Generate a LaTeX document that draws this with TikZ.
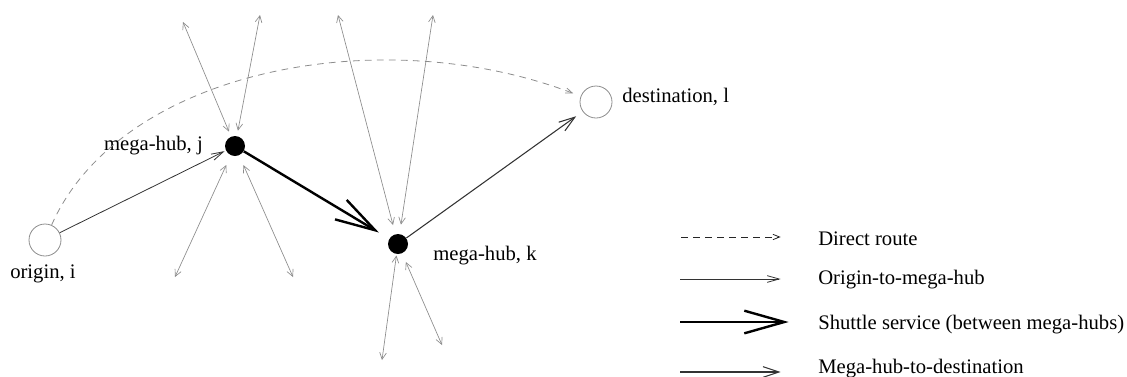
\documentclass[tikz,border=0pt]{standalone}
\usepackage{fontspec}
\setmainfont{Liberation Serif}
\usetikzlibrary{arrows.meta}

\tikzset{
  stop/.style={circle, draw=black!45, line width=0.6pt, minimum size=24pt, inner sep=0pt},
  hub/.style={circle, fill=black, minimum size=15pt, inner sep=0pt},
  lbl/.style={inner sep=0pt, font=\fontsize{15.5}{18}\selectfont},
  spoke/.style={black!45, line width=0.5pt,
    {Straight Barb[length=5pt,width=5pt]}-{Straight Barb[length=5pt,width=5pt]}},
  direct/.style={black!45, line width=0.6pt, dash pattern=on 5pt off 4pt,
    -{Straight Barb[length=5pt,width=4pt]}},
  feeder/.style={black!80, line width=0.6pt, -{Straight Barb[length=9pt,width=5pt]}},
  shuttle/.style={black, line width=1.8pt, -{Straight Barb[length=30pt,width=17pt]}},
  delivery/.style={black!80, line width=0.8pt, -{Straight Barb[length=12pt,width=8pt]}},
}

\begin{document}
\begin{tikzpicture}[x=0.75pt, y=-0.75pt]
    \useasboundingbox (0,0) rectangle (1127,376);

    % Stations
    \node[stop] (origin) at (45,240) {};
    \node[stop] (dest) at (596,102) {};
    \node[hub] (hubj) at (235,146) {};
    \node[hub] (hubk) at (398,244) {};

    % Station labels
    \node[lbl, anchor=north] (lblo) at (43,265) {origin, i};
    \node[lbl, anchor=east] (lblj) at (203,146) {mega-hub, j};
    \node[lbl, anchor=west] (lblk) at (433,256) {mega-hub, k};
    \node[lbl, anchor=west] (lbld) at (622,97) {destination, l};

    % Free ends of the other spokes
    \coordinate (sj1) at (183,22);
    \coordinate (sj2) at (260,15);
    \coordinate (sj3) at (175,277);
    \coordinate (sj4) at (293,277);
    \coordinate (sk1) at (338,15);
    \coordinate (sk2) at (433,15);
    \coordinate (sk3) at (382,360);
    \coordinate (sk4) at (442,345);

    % Spokes to and from the mega-hubs
    \draw[spoke, shorten >=4pt] (sj1) -- (hubj);
    \draw[spoke, shorten >=4pt] (sj2) -- (hubj);
    \draw[spoke, shorten >=8pt] (sj3) -- (hubj);
    \draw[spoke, shorten >=8pt] (sj4) -- (hubj);
    \draw[spoke, shorten >=7pt] (sk1) -- (hubk);
    \draw[spoke, shorten >=7pt] (sk2) -- (hubk);
    \draw[spoke, shorten >=1pt] (sk3) -- (hubk);
    \draw[spoke, shorten >=7pt] (sk4) -- (hubk);

    % Routes
    \draw[direct, shorten >=6pt] (origin) .. controls (120,70) and (380,20) .. (dest);
    \draw[feeder, shorten >=1pt] (origin) -- (hubj);
    \draw[shuttle, shorten >=9pt] (hubj) -- (hubk);
    \draw[delivery, shorten >=6pt] (hubk) -- (dest);

    % Legend
    \node[lbl, anchor=base west] (lgda) at (818,245) {Direct route};
    \node[lbl, anchor=base west] (lgdb) at (818,284) {Origin-to-mega-hub};
    \node[lbl, anchor=base west] (lgdc) at (818,329) {Shuttle service (between mega-hubs)};
    \node[lbl, anchor=base west] (lgdd) at (818,373) {Mega-hub-to-destination};
    \coordinate (lega) at (681,237);
    \coordinate (legb) at (680,279);
    \coordinate (legc) at (680,322);
    \coordinate (legd) at (680,372);
    \draw[direct, black!85, shorten >=28pt] (lega) -- (lega -| lgda.west);
    \draw[feeder, shorten >=28pt] (legb) -- (legb -| lgdb.west);
    \draw[shuttle, shorten >=22pt] (legc) -- (legc -| lgdc.west);
    \draw[delivery, shorten >=28pt] (legd) -- (legd -| lgdd.west);
\end{tikzpicture}
\end{document}
